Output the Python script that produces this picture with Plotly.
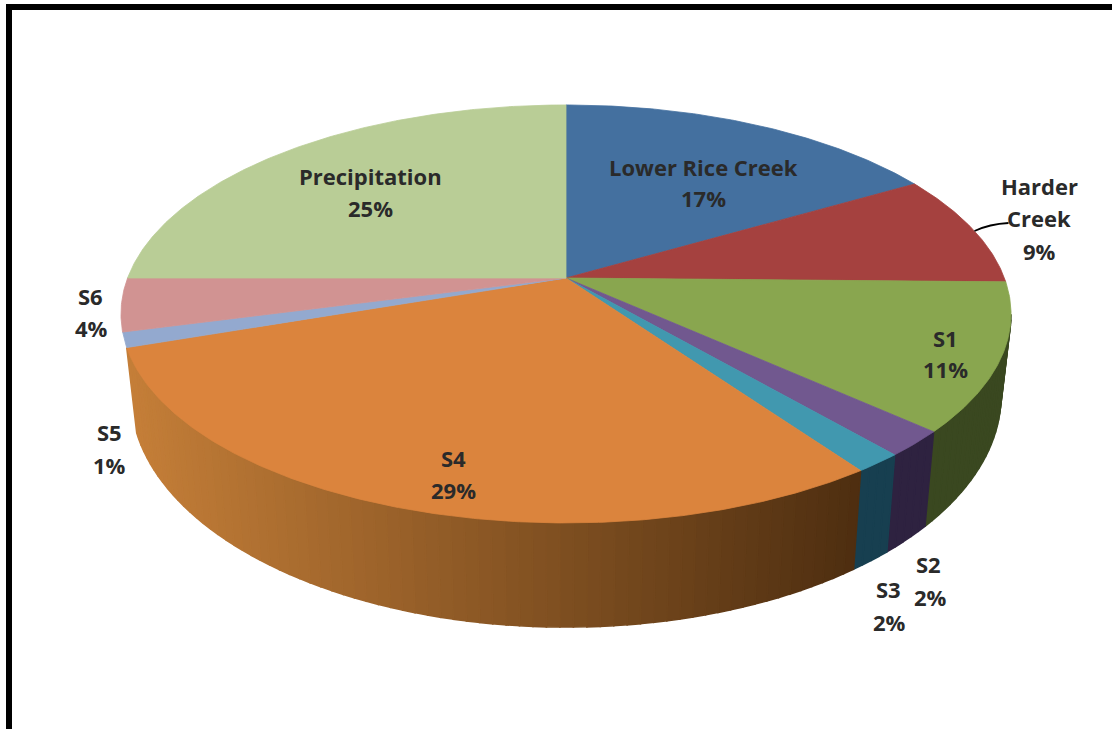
import numpy as np
import plotly.graph_objects as go

categories = ["Lower Rice Creek", "Harder Creek", "S1", "S2", "S3", "S4", "S5", "S6", "Precipitation"]
values = [16.6, 8.7, 11.4, 2.0, 1.5, 29.55, 1.15, 4.1, 25.0]
percent_labels = ["17%", "9%", "11%", "2%", "2%", "29%", "1%", "4%", "25%"]
top_colors = ["#44709F", "#A5413F", "#89A64F", "#71588F", "#4198AF", "#DB843D", "#93A9CF", "#D19392", "#B9CD96"]
side_colors = [None, None, "#3A4820", "#2E2240", "#173F50", "orange", None, None, None]

W, H = 1112, 729
CX = 566
# perspective models of the top and base discs: apex y, half width, half height, perspective
TOP = (278.0, 438.4, 202.8, 0.172)
BASE = (356.0, 428.7, 225.0, 0.170)


def project(theta_deg, model):
    y0, a, b, k = model
    t = np.radians(theta_deg)
    c, s = np.sin(t), -np.cos(t)
    w = 1 - k * s
    return CX + a * c / w, y0 + b * s / w


def mix(c1, c2, f):
    return "rgb(%d,%d,%d)" % tuple(round(c1[i] + (c2[i] - c1[i]) * f) for i in range(3))


ORANGE_L, ORANGE_R = (196, 126, 56), (78, 46, 16)
SIDE_START, STEP = 100.0, 1.5

fig = go.Figure()
edges = np.cumsum([0] + values) / sum(values) * 360


def add_poly(xs, ys, color, lw=0.8):
    fig.add_trace(go.Scatter(x=list(xs), y=list(ys), mode="lines", fill="toself", fillcolor=color,
                             line=dict(color=color, width=lw), hoverinfo="skip", showlegend=False))


# side wall: painted right to left, each strip overlapping the one painted next
for i, side in enumerate(side_colors):
    if side is None:
        continue
    lo, hi = max(edges[i], SIDE_START), edges[i + 1]
    n = max(1, int(np.ceil((hi - lo) / STEP)))
    th = np.linspace(lo, hi, n + 1)
    for j in range(n):
        tx0, ty0 = project(th[j], TOP)
        tx1, ty1 = project(th[j + 1], TOP)
        bx0, by0 = project(th[j], BASE)
        bx1, by1 = project(th[j + 1], BASE)
        if side == "orange":
            col = mix(ORANGE_L, ORANGE_R, np.clip((0.5 * (tx0 + tx1) - 130) / 730, 0, 1))
        else:
            col = side
        add_poly([tx0, tx1, bx1, bx0, tx0], [ty0, ty1, by1, by0, ty0], col, lw=1.6)

# top face
for i, col in enumerate(top_colors):
    th = np.linspace(edges[i], edges[i + 1], max(3, int((edges[i + 1] - edges[i]) * 2)))
    px, py = project(th, TOP)
    add_poly([CX, *px, CX], [TOP[0], *py, TOP[0]], col)

label_font = dict(family="Open Sans", size=22, color="#2A2A2A", weight=700)
label_lines = [
    ("Lower Rice Creek", 703, 167), (percent_labels[0], 703, 198),
    ("Harder", 1039, 186), ("Creek", 1039, 218), (percent_labels[1], 1039, 251),
    (categories[2], 945, 338), (percent_labels[2], 945, 369),
    (categories[3], 928, 564), (percent_labels[3], 930, 597),
    (categories[4], 888, 589), (percent_labels[4], 889, 622),
    (categories[5], 453, 458), (percent_labels[5], 453, 490),
    (categories[6], 109, 432), (percent_labels[6], 109, 465),
    (categories[7], 90, 296), (percent_labels[7], 91, 328),
    (categories[8], 370, 176), (percent_labels[8], 370, 208),
]
annotations = [dict(x=x, y=y, text=t, showarrow=False, xref="x", yref="y", xanchor="center",
                    yanchor="middle", font=label_font) for t, x, y in label_lines]

# leader line for the Harder Creek label, starting on the rim of its slice
rx, ry = project(edges[1] + 0.52 * (edges[2] - edges[1]), TOP)
shapes = [
    dict(type="rect", x0=6, x1=W, y0=4, y1=10, fillcolor="black", line_width=0, layer="above"),
    dict(type="rect", x0=6, x1=12, y0=4, y1=H, fillcolor="black", line_width=0, layer="above"),
    dict(type="path", path=f"M {rx:.1f} {ry:.1f} Q {rx + 15:.1f} {ry - 7:.1f} {rx + 34:.1f} {ry - 8:.1f}",
         line=dict(color="black", width=1.8)),
]

fig.update_layout(
    width=W, height=H, margin=dict(l=0, r=0, t=0, b=0),
    paper_bgcolor="white", plot_bgcolor="white", showlegend=False,
    xaxis=dict(range=[0, W], visible=False, fixedrange=True),
    yaxis=dict(range=[H, 0], visible=False, fixedrange=True),
    annotations=annotations, shapes=shapes,
)
fig.write_html("out.html", config=dict(displayModeBar=False),
               post_script="document.body.style.margin='0';document.documentElement.style.overflow='hidden';")
